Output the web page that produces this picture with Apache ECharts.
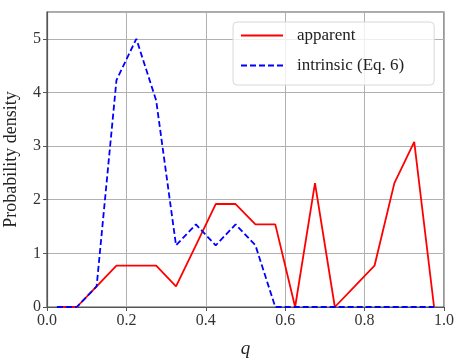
<!DOCTYPE html>
<html>
<head>
<meta charset="utf-8">
<script src="https://cdn.jsdelivr.net/npm/echarts@6/dist/echarts.min.js"></script>
<style>
  html, body { margin: 0; padding: 0; background: #fff; }
  #chart { width: 464px; height: 363px; }
</style>
</head>
<body>
<div id="chart"></div>
<script>
// bin centres along q
const qCentres = [0.025, 0.075, 0.125, 0.175, 0.225, 0.275, 0.325, 0.375, 0.425, 0.475,
                  0.525, 0.575, 0.625, 0.675, 0.725, 0.775, 0.825, 0.875, 0.925, 0.975]
const apparent = [0, 0, 0.385, 0.77, 0.77, 0.77, 0.385, 1.15, 1.92, 1.92,
                  1.54, 1.54, 0, 2.31, 0, 0.385, 0.77, 2.31, 3.08, 0]
const intrinsic = [0, 0, 0.385, 4.23, 5.0, 3.85, 1.15, 1.54, 1.15, 1.54,
                   1.15, 0, 0, 0, 0, 0, 0, 0, 0, 0]
const seriesNames = ['apparent', 'intrinsic (Eq. 6)']

const font = 'Liberation Serif'
const pairs = vals => qCentres.map((q, i) => [q, vals[i]])

const chart = echarts.init(document.getElementById('chart'))
chart.setOption({
  animation: false,
  grid: {
    left: 47, right: 20, top: 12, bottom: 56,
    containLabel: false,
    outerBoundsMode: 'none',
    show: true, borderColor: '#555', borderWidth: 1.2
  },
  legend: {
    data: seriesNames,
    orient: 'vertical',
    left: 233,
    top: 22,
    itemWidth: 42,
    itemHeight: 10,
    itemGap: 13,
    padding: [5, 30, 11, 7],
    backgroundColor: 'rgba(255,255,255,0.8)',
    borderColor: '#d8d8d8',
    borderWidth: 1,
    borderRadius: 4,
    itemStyle: { opacity: 0 },
    textStyle: { fontFamily: font, fontSize: 17, color: '#222', padding: [0, 0, 0, 9] }
  },
  xAxis: {
    type: 'value',
    min: 0, max: 1, interval: 0.2,
    name: 'q',
    nameLocation: 'middle',
    nameGap: 32,
    nameTextStyle: { fontFamily: font, fontSize: 19, fontStyle: 'italic', color: '#222' },
    axisLine: { lineStyle: { color: '#555', width: 1.2 } },
    axisTick: { length: 4, lineStyle: { color: '#555' } },
    axisLabel: { fontFamily: font, fontSize: 16, color: '#333', margin: 6,
                 formatter: v => v.toFixed(1) },
    splitLine: { show: true, lineStyle: { color: '#b0b0b0', width: 1 } }
  },
  yAxis: {
    type: 'value',
    min: 0, max: 5.5, interval: 1,
    name: 'Probability density',
    nameLocation: 'middle',
    nameGap: 27,
    nameTextStyle: { fontFamily: font, fontSize: 18, color: '#222' },
    axisLine: { show: true, lineStyle: { color: '#555', width: 1.2 } },
    axisTick: { show: true, length: 4, lineStyle: { color: '#555' } },
    axisLabel: { fontFamily: font, fontSize: 16, color: '#333', margin: 6,
                 showMaxLabel: false },
    splitLine: { show: true, lineStyle: { color: '#b0b0b0', width: 1 } }
  },
  series: [
    {
      name: seriesNames[0],
      type: 'line',
      data: pairs(apparent),
      showSymbol: false,
      symbol: 'none',
      color: '#ff0000',
      lineStyle: { color: '#ff0000', width: 1.8 },
      z: 3
    },
    {
      name: seriesNames[1],
      type: 'line',
      data: pairs(intrinsic),
      showSymbol: false,
      symbol: 'none',
      color: '#0000ff',
      lineStyle: { color: '#0000ff', width: 1.8, type: [6, 3] },
      z: 4
    }
  ]
})
</script>
</body>
</html>
